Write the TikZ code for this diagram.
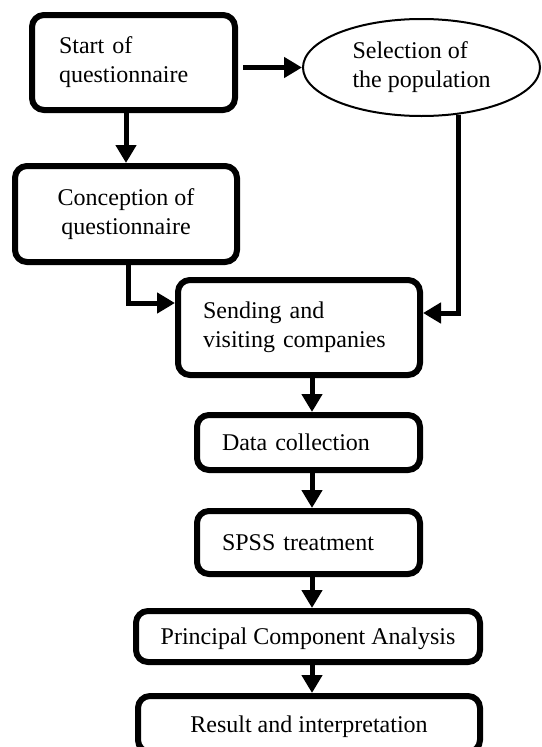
\documentclass[tikz,border=0pt]{standalone}
\usepackage{fontspec}
\setmainfont{Liberation Serif}
\usetikzlibrary{arrows.meta,shapes.geometric,calc}
\begin{document}
\begin{tikzpicture}[x=1pt,y=-1pt,
  box/.style={draw, line width=6pt, rounded corners=12pt, fill=white, inner sep=0pt,
              font=\fontsize{24}{29}\selectfont},
  oval/.style={draw, ellipse, line width=2pt, fill=white, inner sep=0pt,
              font=\fontsize{24}{29}\selectfont},
  conn/.style={line width=5pt, -{Triangle[length=18pt,width=20pt]}}]
\clip (0,0) rectangle (541,747);

\node[box, minimum width=203pt, minimum height=95pt, text width=149pt, align=left]
  (start) at (133.5,62.5) {Start of\\questionnaire};
\node[oval, minimum width=237pt, minimum height=97pt, align=left]
  (sel) at (421.5,67.5) {Selection of\\the population};
\node[box, minimum width=222pt, minimum height=96pt, align=center]
  (conc) at (126,214) {Conception of\\questionnaire};
\node[box, minimum width=242pt, minimum height=95pt, text width=192pt, align=left]
  (send) at (299,327.5) {Sending and\\visiting companies};
\node[box, minimum width=223pt, minimum height=55pt, text width=173pt, align=left]
  (data) at (308.5,442.5) {Data collection};
\node[box, minimum width=223pt, minimum height=63pt, text width=173pt, align=left]
  (spss) at (308.5,542.5) {SPSS treatment};
\node[box, minimum width=344pt, minimum height=51pt, text depth=0pt]
  (pca) at (308,636.5) {Principal Component Analysis};
\node[box, minimum width=342pt, minimum height=56pt, text depth=0pt]
  (res) at (309,724) {Result and interpretation};

\coordinate (colx) at ([xshift=3.5pt]data.north);
\coordinate (concout) at ([xshift=2pt]conc.south);
\coordinate (sendin) at ([yshift=24.5pt]send.west);
\coordinate (sendinr) at ([yshift=14.5pt]send.east);

\draw[conn, shorten <=5pt] (start.east |- sel.west) -- (sel.west);
\draw[conn] (start.south -| conc.north) -- (conc.north);
\draw[conn] (concout) |- (sendin);
\draw[conn] (sel.-52) |- (sendinr);
\draw[conn] (colx |- send.south) -- (colx);
\draw[conn] (colx |- data.south) -- (colx |- spss.north);
\draw[conn] (colx |- spss.south) -- (colx |- pca.north);
\draw[conn] (colx |- pca.south) -- (colx |- res.north);
\end{tikzpicture}
\end{document}
